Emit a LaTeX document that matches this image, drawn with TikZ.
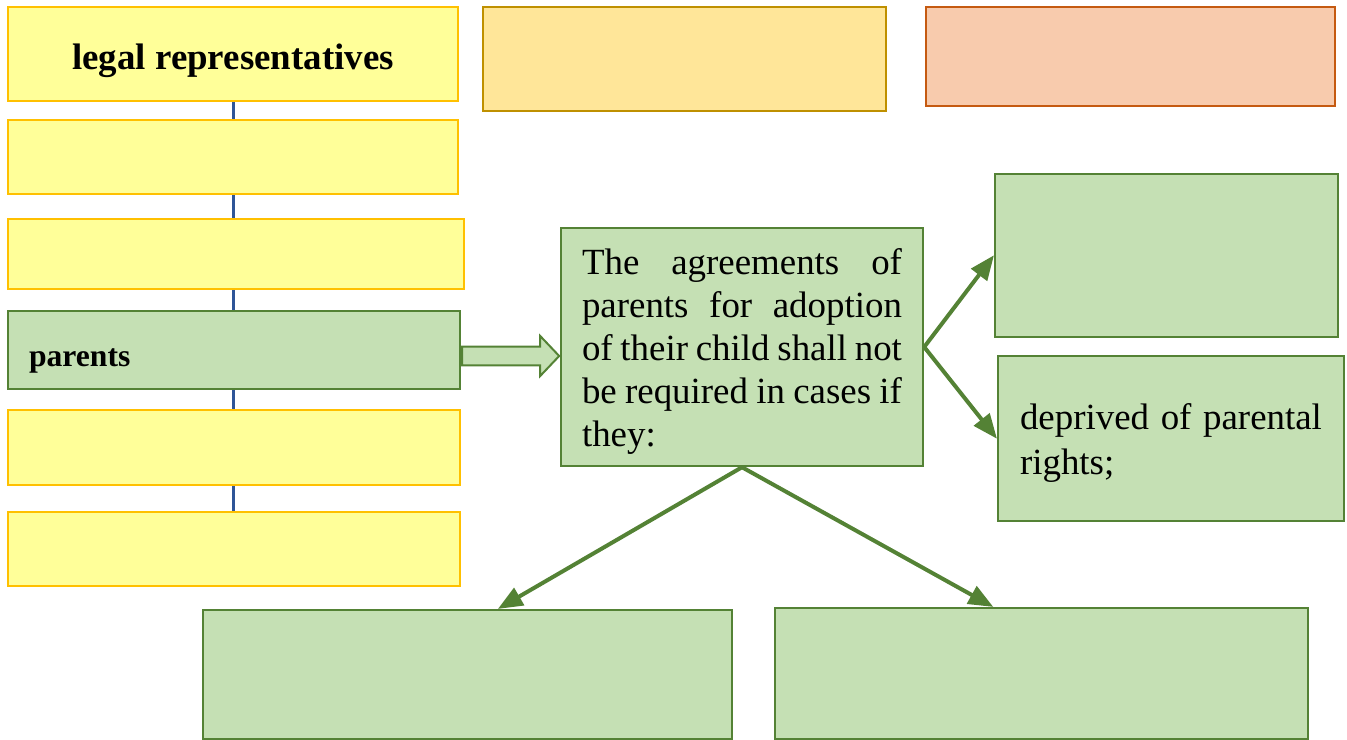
\documentclass[tikz,border=0pt]{standalone}
\usepackage{fontspec}
\setmainfont{Liberation Serif}
\usetikzlibrary{arrows,shapes,backgrounds}

\definecolor{yfill}{HTML}{FFFF99}
\definecolor{yline}{HTML}{FFC000}
\definecolor{gfill}{HTML}{C5E0B4}
\definecolor{gline}{HTML}{548235}
\definecolor{ofill}{HTML}{FFE699}
\definecolor{oline}{HTML}{BF9000}
\definecolor{rfill}{HTML}{F8CBAD}
\definecolor{rline}{HTML}{C55A11}
\definecolor{bline}{HTML}{2F5597}

\begin{document}
\begin{tikzpicture}[x=0.02cm,y=-0.02cm,>=triangle 45]
  \tikzstyle{box}=[rectangle,line width=0.05cm,inner sep=0pt,
                   font=\fontsize{21pt}{24.5pt}\selectfont]
  \tikzstyle{yellow box}=[box,draw=yline,fill=yfill]
  \tikzstyle{green box}=[box,draw=gline,fill=gfill]
  \tikzstyle{link}=[->,draw=gline,line width=0.08cm]
  \useasboundingbox (0,0) rectangle (1347,740);

  % left column
  \node [yellow box,minimum width=9cm,minimum height=1.88cm,text height=0.78cm] (legal) at (233,54)
    {\textbf{legal representatives}};
  \node [yellow box,minimum width=9cm,minimum height=1.48cm] (y1) at (233,157) {};
  \node [yellow box,minimum width=9.12cm,minimum height=1.4cm] (y2) at (236,254) {};
  \node [green box,minimum width=9.04cm,minimum height=1.56cm,text width=8.2cm,
         align=left,text height=0.78cm,font=\fontsize{18pt}{21pt}\selectfont] (parents) at (234,350)
    {\textbf{parents}};
  \node [yellow box,minimum width=9.04cm,minimum height=1.5cm] (y3) at (234,447.5) {};
  \node [yellow box,minimum width=9.04cm,minimum height=1.48cm] (y4) at (234,549) {};
  \begin{scope}[on background layer]
    \draw [bline,line width=0.06cm] (legal.south) -- (legal.south |- y4.north);
  \end{scope}

  % top row
  \node [box,draw=oline,fill=ofill,minimum width=8.06cm,minimum height=2.08cm] (gold) at (684.5,59) {};
  \node [box,draw=rline,fill=rfill,minimum width=8.18cm,minimum height=1.98cm] (peach) at (1130.5,56.5) {};

  % the cases
  \node [green box,minimum width=7.24cm,minimum height=4.76cm,text width=6.4cm,
         align=justify,text height=0.7cm] (cases) at (742,347)
    {The agreements of parents for adoption of their child shall not be required in cases if they:};
  \node [green box,minimum width=6.86cm,minimum height=3.26cm] (r1) at (1166.5,255.5) {};
  \node [green box,minimum width=6.92cm,minimum height=3.3cm,text width=6.04cm,
         align=justify,text height=0.7cm,font=\fontsize{21pt}{25.6pt}\selectfont] (r2) at (1171,438.5)
    {deprived of parental rights;};
  \node [green box,minimum width=10.58cm,minimum height=2.58cm] (b1) at (467.5,674.5) {};
  \node [green box,minimum width=10.66cm,minimum height=2.62cm] (b2) at (1041.5,673.5) {};

  % hollow arrow from parents
  \node [single arrow,draw=gline,fill=gfill,line width=0.04cm,anchor=tail,
         minimum height=1.94cm,minimum width=0.76cm,inner sep=0.17cm,
         single arrow head extend=0.21cm,single arrow tip angle=93] (hollow)
    at ([yshift=-0.12cm]parents.east) {};

  \draw [link] (cases.east) -- (r1.west);
  \draw [link] (cases.east) -- (r2.west);
  \draw [link] (cases.south) -- (b1.65);
  \draw [link] (cases.south) -- (b2.126);
\end{tikzpicture}
\end{document}
